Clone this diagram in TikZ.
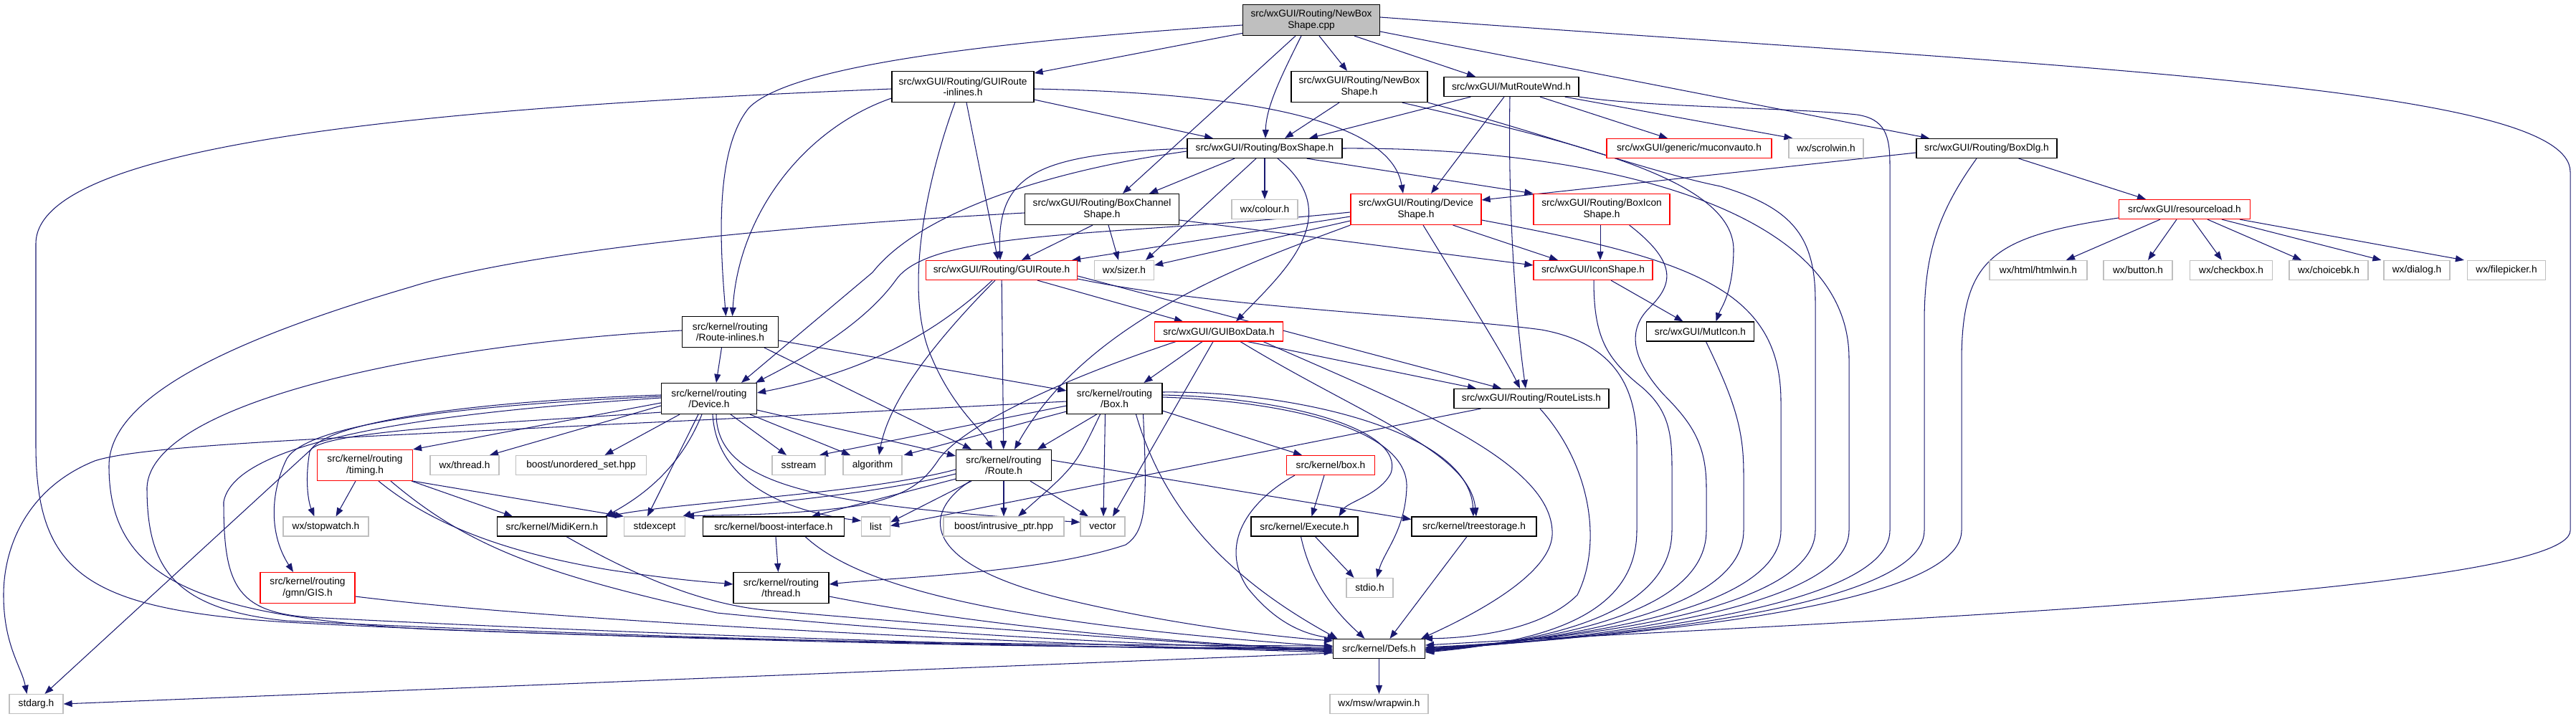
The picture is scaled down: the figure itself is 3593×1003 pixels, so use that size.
\documentclass[tikz,border=0pt]{standalone}
\usepackage{fontspec}
\setmainfont{Liberation Sans}
\usetikzlibrary{arrows.meta,calc}
\definecolor{edgec}{HTML}{191970}
\definecolor{grayb}{HTML}{BFBFBF}
\definecolor{redb}{HTML}{FF0000}
\newcommand\nodefont{\fontsize{13.7}{15.7}\selectfont}
\pgfdeclarelayer{bg}
\pgfsetlayers{bg,main}
\begin{document}
\begin{tikzpicture}[x=1pt,y=-1pt,
  box/.style={draw=black,line width=1.2pt,fill=white,inner sep=0pt,align=center,font=\nodefont},
  rbox/.style={box,draw=redb},
  gbox/.style={box,draw=grayb},
  cbox/.style={box,fill=grayb},
  sz/.style 2 args={minimum width=#1pt,minimum height=#2pt},
  e/.style={draw=edgec,line width=1.05pt,-{Triangle[length=12pt,width=9pt]}}]
\useasboundingbox (0,0) rectangle (3593,1003);
% ---------- nodes ----------
\node[cbox,sz={191}{43}] (cpp) at (1829,28) {src/wxGUI/Routing/NewBox\\Shape.cpp};
\node[box,sz={198}{43}] (gri) at (1343,121) {src/wxGUI/Routing/GUIRoute\\-inlines.h};
\node[box,sz={190}{43}] (nbs) at (1896,121) {src/wxGUI/Routing/NewBox\\Shape.h};
\node[box,sz={188}{27}] (mrw) at (2108,121) {src/wxGUI/MutRouteWnd.h};
\node[box,sz={216}{27}] (bs) at (1764,207) {src/wxGUI/Routing/BoxShape.h};
\node[rbox,sz={230}{27}] (muc) at (2356,207) {src/wxGUI/generic/muconvauto.h};
\node[gbox,sz={104}{27}] (scr) at (2547,207) {wx/scrolwin.h};
\node[box,sz={196}{27}] (bdlg) at (2771,207) {src/wxGUI/Routing/BoxDlg.h};
\node[box,sz={215}{43}] (bcs) at (1537,292) {src/wxGUI/Routing/BoxChannel\\Shape.h};
\node[gbox,sz={92}{27}] (col) at (1764,292) {wx/colour.h};
\node[rbox,sz={182}{43}] (dev) at (1975,292) {src/wxGUI/Routing/Device\\Shape.h};
\node[rbox,sz={190}{43}] (bis) at (2234,292) {src/wxGUI/Routing/BoxIcon\\Shape.h};
\node[rbox,sz={183}{27}] (rl) at (3047,292) {src/wxGUI/resourceload.h};
\node[rbox,sz={211}{27}] (gr) at (1397,377) {src/wxGUI/Routing/GUIRoute.h};
\node[gbox,sz={83}{27}] (siz) at (1568,377) {wx/sizer.h};
\node[rbox,sz={166}{27}] (ics) at (2222,377) {src/wxGUI/IconShape.h};
\node[gbox,sz={136}{27}] (htm) at (2843,377) {wx/html/htmlwin.h};
\node[gbox,sz={96}{27}] (btn) at (2982,377) {wx/button.h};
\node[gbox,sz={115}{27}] (chk) at (3112,377) {wx/checkbox.h};
\node[gbox,sz={110}{27}] (chb) at (3248,377) {wx/choicebk.h};
\node[gbox,sz={92}{27}] (dlg) at (3371,377) {wx/dialog.h};
\node[gbox,sz={109}{27}] (fpk) at (3496,377) {wx/filepicker.h};
\node[box,sz={134}{43}] (rin) at (1018.5,463) {src/kernel/routing\\/Route-inlines.h};
\node[rbox,sz={179}{27}] (gbd) at (1700,462.5) {src/wxGUI/GUIBoxData.h};
\node[box,sz={150}{27}] (mic) at (2371.5,462.5) {src/wxGUI/MutIcon.h};
\node[box,sz={133}{43}] (kdev) at (989,556) {src/kernel/routing\\/Device.h};
\node[box,sz={133}{43}] (kbox) at (1554.5,556) {src/kernel/routing\\/Box.h};
\node[box,sz={216}{27}] (rls) at (2136,556) {src/wxGUI/Routing/RouteLists.h};
\node[rbox,sz={133}{43}] (tim) at (509,649) {src/kernel/routing\\/timing.h};
\node[gbox,sz={96}{27}] (thr) at (648,649) {wx/thread.h};
\node[gbox,sz={182}{27}] (uset) at (810.5,649) {boost/unordered\_set.hpp};
\node[gbox,sz={74}{27}] (sst) at (1114,649) {sstream};
\node[gbox,sz={82}{27}] (alg) at (1217,649) {algorithm};
\node[box,sz={133}{43}] (kroute) at (1400,649) {src/kernel/routing\\/Route.h};
\node[rbox,sz={123}{27}] (kbx) at (1856,649) {src/kernel/box.h};
\node[gbox,sz={119}{27}] (stw) at (454.5,734.5) {wx/stopwatch.h};
\node[box,sz={153}{27}] (mk) at (770,734.5) {src/kernel/MidiKern.h};
\node[gbox,sz={85}{27}] (sexc) at (913,734.5) {stdexcept};
\node[box,sz={197}{27}] (bi) at (1079,734.5) {src/kernel/boost-interface.h};
\node[gbox,sz={40}{27}] (lst) at (1221.5,734.5) {list};
\node[gbox,sz={168}{27}] (iptr) at (1400,734.5) {boost/intrusive\_ptr.hpp};
\node[gbox,sz={62}{27}] (vec) at (1538,734.5) {vector};
\node[box,sz={149}{27}] (exe) at (1819.5,734.5) {src/kernel/Execute.h};
\node[box,sz={174}{27}] (ts) at (2056,734.5) {src/kernel/treestorage.h};
\node[rbox,sz={132}{43}] (gis) at (429,820) {src/kernel/routing\\/gmn/GIS.h};
\node[box,sz={133}{43}] (kthr) at (1089.5,820) {src/kernel/routing\\/thread.h};
\node[gbox,sz={65}{27}] (stdio) at (1910.5,820) {stdio.h};
\node[box,sz={128}{27}] (defs) at (1923.5,905) {src/kernel/Defs.h};
\node[gbox,sz={75}{27}] (stdarg) at (50.5,982) {stdarg.h};
\node[gbox,sz={137}{27}] (wrap) at (1923.5,982) {wx/msw/wrapwin.h};
% ---------- edges ----------
\begin{pgfonlayer}{bg}
\fill[white] (0,0) rectangle (3593,1003);
% cpp
\draw[e] (cpp) -- (gri);
\draw[e] ($(cpp.west)+(0,7)$) .. controls (1350,60) and (1100,95) .. (1045,150) .. controls (995,210) and (1005,350) .. ([xshift=-6pt]rin.north);
\draw[e] ([xshift=-22pt]cpp.south) -- ([xshift=29pt]bcs.north);
\draw[e] ([xshift=-14pt]cpp.south) .. controls (1785,110) and (1766,150) .. ([xshift=1pt]bs.north);
\draw[e] ([xshift=11pt]cpp.south) -- ([xshift=-17pt]nbs.north);
\draw[e] ([xshift=60pt]cpp.south) -- ([xshift=-50pt]mrw.north);
\draw[e] ($(cpp.east)+(0,16)$) -- ([xshift=-80pt]bdlg.north);
\draw[e] ($(cpp.east)+(0,-4)$) .. controls (2900,95) and (3585,120) .. (3585,240) -- (3585,740) .. controls (3585,830) and (2500,870) .. ($(defs.east)+(0,-5)$);
% gri
\draw[e] ($(gri.east)+(0,18)$) -- ([xshift=-72pt]bs.north);
\draw[e] ($(gri.east)+(0,3)$) .. controls (1750,130) and (1940,170) .. ([xshift=-18pt]dev.north);
\draw[e] ([xshift=5pt]gri.south) -- ([xshift=-5pt]gr.north);
\draw[e] ([xshift=-11pt]gri.south) .. controls (1300,230) and (1255,400) .. (1300,500) .. controls (1330,570) and (1370,600) .. ([xshift=-16pt]kroute.north);
\draw[e] ($(gri.west)+(0,16)$) .. controls (1120,180) and (1030,300) .. ([xshift=3pt]rin.north);
\draw[e] ($(gri.west)+(0,3)$) .. controls (600,150) and (50,200) .. (50,340) -- (50,620) .. controls (50,800) and (120,850) .. (400,868) .. controls (900,895) and (1500,900) .. ($(defs.west)+(0,-4)$);
% nbs
\draw[e] ([xshift=-28pt]nbs.south) -- ([xshift=28pt]bs.north);
\draw[e] ($(nbs.south east)+(-36,0)$) .. controls (2200,200) and (2420,250) .. (2418,350) .. controls (2417,410) and (2400,430) .. ([xshift=22pt]mic.north);
\draw[e] (nbs.south east) .. controls (2150,185) and (2300,240) .. (2400,260) .. controls (2500,290) and (2532,330) .. (2532,420) -- (2532,740) .. controls (2532,860) and (2150,895) .. ($(defs.east)+(0,-1)$);
% mrw
\draw[e] ($(mrw.south west)+(38,0)$) -- ([xshift=62pt]bs.north);
\draw[e] ([xshift=-10pt]mrw.south) -- ([xshift=21pt]dev.north);
\draw[e] ([xshift=-2pt]mrw.south) .. controls (2103,300) and (2115,450) .. ([xshift=-8pt]rls.north);
\draw[e] ([xshift=40pt]mrw.south) -- ([xshift=-30pt]muc.north);
\draw[e] ($(mrw.south east)+(-20,0)$) -- ($(scr.north west)+(6,0)$);
\draw[e] (mrw.south east) .. controls (2300,150) and (2500,150) .. (2590,160) .. controls (2630,166) and (2636,190) .. (2636,230) -- (2636,740) .. controls (2636,860) and (2150,895) .. ($(defs.east)+(0,1)$);
% bs
\draw[e] ([xshift=-42pt]bs.south) -- ([xshift=66pt]bcs.north);
\draw[e] (bs) -- (col);
\draw[e] ([xshift=-12pt]bs.south) -- ([xshift=30pt]siz.north);
\draw[e] ([xshift=18pt]bs.south) .. controls (1880,300) and (1790,380) .. ([xshift=24pt]gbd.north);
\draw[e] ($(bs.south east)+(-50,0)$) -- (bis.north west);
\draw[e] (bs.west) .. controls (1450,215) and (1390,240) .. ([xshift=-2pt]gr.north);
\draw[e] ($(bs.west)+(0,4)$) .. controls (1450,240) and (1280,300) .. (1217,380) -- ([xshift=45pt]kdev.north);
\draw[e] (bs.east) .. controls (2200,205) and (2579,280) .. (2579,500) -- (2579,740) .. controls (2579,860) and (2150,895) .. ($(defs.east)+(0,2)$);
% bcs
\draw[e] ([xshift=-13pt]bcs.south) -- ([xshift=28pt]gr.north);
\draw[e] ([xshift=9pt]bcs.south) -- ([xshift=-8pt]siz.north);
\draw[e] ($(bcs.east)+(0,15)$) -- ($(ics.west)+(0,-7)$);
\draw[e] ($(bcs.west)+(0,5)$) .. controls (1000,320) and (700,360) .. (574,400) .. controls (300,480) and (152,560) .. (152,650) .. controls (152,800) and (260,860) .. (600,878) .. controls (1200,900) and (1600,905) .. ($(defs.west)+(0,-2)$);
% dev
\draw[e] ($(dev.west)+(0,10)$) -- ($(gr.north east)+(-8,0)$);
\draw[e] ($(dev.west)+(0,16)$) -- ($(siz.east)+(0,-7)$);
\draw[e] ($(dev.west)+(0,4)$) .. controls (1550,330) and (1300,320) .. (1250,390) .. controls (1200,460) and (1100,510) .. ($(kdev.north east)+(-2,0)$);
\draw[e] (dev.south west) .. controls (1760,360) and (1520,440) .. ([xshift=15pt]kroute.north);
\draw[e] ($(dev.south east)+(-40,0)$) -- ([xshift=-49pt]ics.north);
\draw[e] ([xshift=10pt]dev.south) .. controls (2050,420) and (2100,500) .. ([xshift=-16pt]rls.north);
\draw[e] ($(dev.east)+(0,15)$) .. controls (2350,360) and (2484,400) .. (2484,560) -- (2484,740) .. controls (2484,860) and (2150,895) .. ($(defs.east)+(0,0)$);
% bis
\draw[e] ([xshift=-2pt]bis.south) -- ([xshift=10pt]ics.north);
\draw[e] ($(bis.south east)+(-57,0)$) .. controls (2345,370) and (2330,400) .. (2300,430) .. controls (2270,460) and (2275,500) .. (2320,550) .. controls (2360,590) and (2380,620) .. (2380,680) -- (2380,740) .. controls (2380,860) and (2150,895) .. ($(defs.east)+(0,3)$);
% ics
\draw[e] ([xshift=25pt]ics.south) -- ([xshift=-24pt]mic.north);
\draw[e] ([xshift=1pt]ics.south) .. controls (2223,470) and (2240,500) .. (2290,540) .. controls (2325,570) and (2332,600) .. (2332,650) -- (2332,740) .. controls (2332,860) and (2150,895) .. ($(defs.east)+(0,4)$);
% mic
\draw[e] ([xshift=8pt]mic.south) .. controls (2420,560) and (2432,600) .. (2432,660) -- (2432,740) .. controls (2432,860) and (2150,895) .. ($(defs.east)+(0,2)$);
% bdlg
\draw[e] ($(bdlg.west)+(0,6)$) -- ($(dev.east)+(0,-13)$);
\draw[e] ($(bdlg.south east)+(-54,0)$) -- ([xshift=-54pt]rl.north);
\draw[e] ([xshift=-14pt]bdlg.south) .. controls (2700,300) and (2684,360) .. (2684,450) -- (2684,740) .. controls (2684,860) and (2150,895) .. ($(defs.east)+(0,1)$);
% rl
\draw[e] ([xshift=-34pt]rl.south) -- ([xshift=39pt]htm.north);
\draw[e] ([xshift=-11pt]rl.south) -- ([xshift=14pt]btn.north);
\draw[e] ([xshift=11pt]rl.south) -- ([xshift=-13pt]chk.north);
\draw[e] ([xshift=32pt]rl.south) -- ([xshift=-38pt]chb.north);
\draw[e] ([xshift=52pt]rl.south) -- ($(dlg.north west)+(-3,0)$);
\draw[e] ([xshift=77pt]rl.south) -- ($(fpk.north west)+(-4,0)$);
\draw[e] ($(rl.west)+(0,12)$) .. controls (2780,330) and (2737,360) .. (2736,500) -- (2736,740) .. controls (2736,860) and (2150,895) .. ($(defs.east)+(0,-2)$);
% gr
\draw[e] ([xshift=-13pt]gr.south) .. controls (1300,470) and (1200,520) .. ($(kdev.east)+(0,-8)$);
\draw[e] ([xshift=-9pt]gr.south) .. controls (1300,480) and (1240,560) .. ([xshift=9pt]alg.north);
\draw[e] (gr) -- (kroute);
\draw[e] ([xshift=50pt]gr.south) -- ([xshift=-50pt]gbd.north);
\draw[e] ($(gr.east)+(0,8)$) -- ([xshift=-42pt]rls.north);
\draw[e] ($(gr.east)+(0,12)$) .. controls (1700,430) and (2000,440) .. (2150,460) .. controls (2260,480) and (2283,550) .. (2283,620) -- (2283,740) .. controls (2283,860) and (2150,895) .. ($(defs.east)+(0,5)$);
% gbd
\draw[e] ([xshift=-23pt]gbd.south) -- ([xshift=41pt]kbox.north);
\draw[e] ([xshift=-8pt]gbd.south) -- ([xshift=14pt]vec.north);
\draw[e] ($(gbd.south west)+(30,0)$) .. controls (1450,540) and (1340,600) .. (1310,640) .. controls (1290,670) and (1270,690) .. (1200,705) .. controls (1100,720) and (1000,718) .. (sexc.north east);
\draw[e] ($(gbd.south east)+(-50,0)$) -- ([xshift=-77pt]rls.north);
\draw[e] ($(gbd.south east)+(-60,0)$) .. controls (1900,580) and (2050,630) .. ([xshift=3pt]ts.north);
\draw[e] ($(gbd.south east)+(-28,0)$) .. controls (1950,560) and (2160,640) .. (2165,740) .. controls (2170,800) and (2050,860) .. ($(defs.north east)+(-6,0)$);
% rin
\draw[e] ([xshift=-12pt]rin.south) -- ([xshift=10pt]kdev.north);
\draw[e] ($(rin.south east)+(-20,0)$) -- ([xshift=-45pt]kroute.north);
\draw[e] ($(rin.east)+(0,12)$) -- ($(kbox.west)+(0,-11)$);
\draw[e] ($(rin.west)+(0,-2)$) .. controls (600,480) and (210,560) .. (205,680) .. controls (205,790) and (240,850) .. (400,866) .. controls (900,890) and (1500,905) .. ($(defs.west)+(0,0)$);
% kdev
\draw[e] ($(kdev.east)+(0,16)$) -- ($(kroute.west)+(0,-13)$);
\draw[e] ([xshift=30pt]kdev.south) -- ([xshift=-17pt]sst.north);
\draw[e] ($(kdev.south east)+(-10,0)$) -- ([xshift=-31pt]alg.north);
\draw[e] ([xshift=-41pt]kdev.south) -- ([xshift=33pt]uset.north);
\draw[e] ($(kdev.west)+(0,10)$) -- ([xshift=35pt]thr.north);
\draw[e] ($(kdev.west)+(0,6)$) -- (tim.north east);
\draw[e] ($(kdev.west)+(0,-5)$) .. controls (650,560) and (450,590) .. (432,630) .. controls (425,670) and (430,700) .. ([xshift=-16pt]stw.north);
\draw[e] ($(kdev.west)+(0,-3)$) .. controls (650,565) and (430,590) .. (400,640) .. controls (380,680) and (372,740) .. ([xshift=-20pt]gis.north);
\draw[e] ($(kdev.south west)+(0,-3)$) .. controls (700,590) and (470,600) .. (436,625) -- ([xshift=12pt]stdarg.north);
\draw[e] ([xshift=-10pt]kdev.south) .. controls (950,650) and (900,690) .. ($(mk.north east)+(-3,0)$);
\draw[e] ([xshift=-15pt]kdev.south) -- ([xshift=-10pt]sexc.north);
\draw[e] ([xshift=5pt]kdev.south) .. controls (1000,680) and (1110,715) .. ($(lst.west)+(0,-8)$);
\draw[e] ([xshift=10pt]kdev.south) .. controls (1000,680) and (1150,705) .. ($(vec.west)+(0,-6)$);
\draw[e] ($(kdev.west)+(0,-1)$) .. controls (700,570) and (330,600) .. (312,700) .. controls (312,820) and (330,858) .. (450,862) .. controls (900,885) and (1500,905) .. ($(defs.west)+(0,2)$);
% kbox
\draw[e] ($(kbox.west)+(0,4)$) .. controls (1200,575) and (1000,585) .. (850,592) .. controls (500,610) and (200,620) .. (132,643) .. controls (40,680) and (5,760) .. (5,830) .. controls (5,900) and (30,930) .. ([xshift=-13pt]stdarg.north);
\draw[e] ([xshift=-25pt]kbox.south) -- ($(kroute.north east)+(-20,0)$);
\draw[e] ($(kbox.west)+(0,10)$) -- ([xshift=29pt]sst.north);
\draw[e] ($(kbox.west)+(0,18)$) -- ($(alg.north east)+(2,0)$);
\draw[e] ([xshift=-13pt]kbox.south) -- ([xshift=1pt]vec.north);
\draw[e] ([xshift=-20pt]kbox.south) .. controls (1500,650) .. ([xshift=20pt]iptr.north);
\draw[e] ($(kbox.south east)+(0,-5)$) -- ([xshift=-40pt]kbx.north);
\draw[e] ($(kbox.east)+(0,-5)$) .. controls (1800,555) and (1960,600) .. (1940,660) .. controls (1925,690) and (1880,700) .. ([xshift=48pt]exe.north);
\draw[e] ($(kbox.east)+(0,-2)$) .. controls (1800,560) and (1965,600) .. (1962,680) .. controls (1960,740) and (1930,770) .. ([xshift=10pt]stdio.north);
\draw[e] ($(kbox.east)+(0,-9)$) .. controls (1800,545) and (2050,600) .. ([xshift=-1pt]ts.north);
\draw[e] ([xshift=40pt]kbox.south) .. controls (1600,700) and (1600,740) .. (1570,760) .. controls (1450,800) and (1250,805) .. ($(kthr.east)+(0,-5)$);
\draw[e] ([xshift=30pt]kbox.south) .. controls (1620,700) and (1700,800) .. ([xshift=-58pt]defs.north);
% kroute
\draw[e] ([xshift=-45pt]kroute.south) -- ($(lst.east)+(0,-6)$);
\draw[e] (kroute) -- (iptr);
\draw[e] ([xshift=37pt]kroute.south) -- ([xshift=-20pt]vec.north);
\draw[e] ($(kroute.east)+(0,-7)$) -- ($(ts.west)+(0,-10)$);
\draw[e] ($(kroute.west)+(0,6)$) .. controls (1200,690) and (950,700) .. (mk.north east);
\draw[e] ($(kroute.west)+(0,12)$) .. controls (1200,695) and (1000,705) .. ($(sexc.north east)+(-4,0)$);
\draw[e] ($(kroute.south west)+(0,-3)$) -- ([xshift=53pt]bi.north);
\draw[e] ([xshift=-47pt]kroute.south) .. controls (1280,720) and (1290,790) .. (1490,837) .. controls (1650,875) and (1800,890) .. ($(defs.north west)+(0,3)$);
% rls
\draw[e] ($(rls.south west)+(38,0)$) -- ($(lst.east)+(0,-1)$);
\draw[e] ([xshift=12pt]rls.south) .. controls (2220,650) and (2235,760) .. (2200,830) .. controls (2150,880) and (2050,890) .. ($(defs.north east)+(-2,0)$);
% tim
\draw[e] ([xshift=-13pt]tim.south) -- ([xshift=14pt]stw.north);
\draw[e] ($(tim.south east)+(-2,0)$) -- ([xshift=-55pt]mk.north);
\draw[e] (tim.south east) -- (sexc.north west);
\draw[e] ([xshift=19pt]tim.south) .. controls (600,730) and (700,770) .. (850,795) .. controls (950,810) and (990,812) .. ($(kthr.west)+(0,-5)$);
\draw[e] ([xshift=36pt]tim.south) .. controls (650,760) and (750,800) .. (1000,855) .. controls (1400,895) and (1700,900) .. ($(defs.west)+(0,4)$);
% lower
\draw[e] ($(gis.east)+(0,12)$) .. controls (800,870) and (1500,900) .. ($(defs.west)+(0,5)$);
\draw[e] ([xshift=20pt]mk.south) .. controls (880,800) and (980,845) .. (1078,852) .. controls (1400,880) and (1700,900) .. ($(defs.west)+(0,3)$);
\draw[e] ($(bi.south east)+(-55,0)$) .. controls (1200,820) and (1400,870) .. ($(defs.west)+(0,-3)$);
\draw[e] ([xshift=3pt]bi.south) -- ([xshift=-4pt]kthr.north);
\draw[e] ($(kthr.east)+(0,12)$) .. controls (1400,880) and (1700,900) .. ($(defs.west)+(0,1)$);
\draw[e] ([xshift=-9pt]kbx.south) -- ([xshift=10pt]exe.north);
\draw[e] ($(kbx.south west)+(12,0)$) .. controls (1740,700) and (1700,760) .. (1740,820) .. controls (1780,870) and (1820,885) .. ([xshift=-60pt]defs.north);
\draw[e] ([xshift=15pt]exe.south) -- ([xshift=-22pt]stdio.north);
\draw[e] ([xshift=-5pt]exe.south) .. controls (1830,820) and (1870,860) .. ([xshift=-20pt]defs.north);
\draw[e] ([xshift=-10pt]ts.south) -- ([xshift=15pt]defs.north);
\draw[e] (defs) -- (wrap);
\draw[e] ($(defs.west)+(0,6)$) -- (stdarg.east);
\end{pgfonlayer}
\end{tikzpicture}
\end{document}
